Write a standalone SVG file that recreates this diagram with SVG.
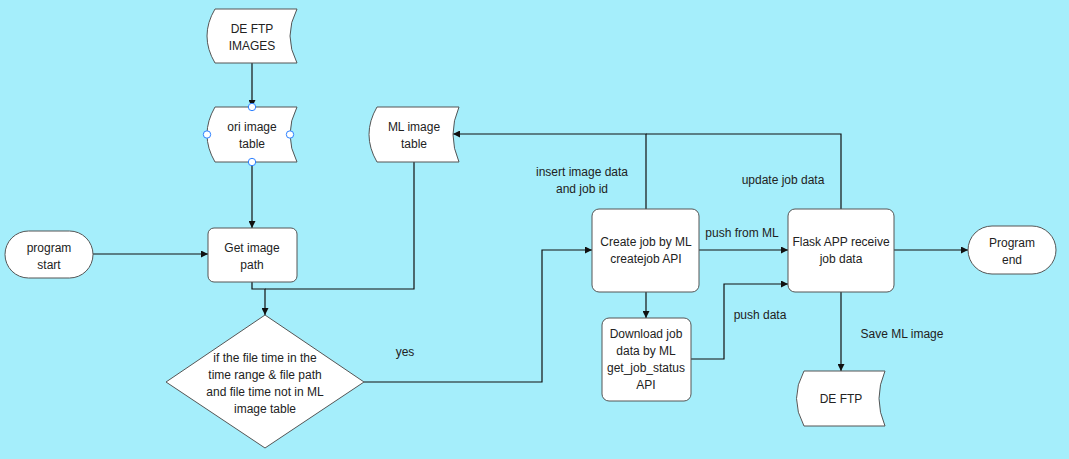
<svg xmlns="http://www.w3.org/2000/svg" width="1069" height="459" viewBox="0 0 1069 459">
<defs>
<style>
.s{fill:#fff;stroke:#555;stroke-width:1}
.t{font-family:"Liberation Sans",Arial,sans-serif;font-size:12px;fill:#222;text-anchor:middle}
.c{fill:none;stroke:#111;stroke-width:1.2}
.h{fill:#fff;stroke:#2a7fff;stroke-width:1}
</style>
<marker id="a" viewBox="0 0 10 10" refX="10" refY="5" markerWidth="7" markerHeight="7" markerUnits="userSpaceOnUse" orient="auto">
<path d="M0,0 L10,5 L0,10 Z" fill="#111"/>
</marker>
</defs>
<rect width="1069" height="459" fill="#a5eefb"/>
<g id="connectors">
<path class="c" d="M252,63 V107" marker-end="url(#a)"/>
<path class="c" d="M252,162 V228" marker-end="url(#a)"/>
<path class="c" d="M93,254 H208" marker-end="url(#a)"/>
<path class="c" d="M252,282 V289 H265 V315" marker-end="url(#a)"/>
<path class="c" d="M414,162 V289 H265"/>
<path class="c" d="M364,382 H542 V250 H592" marker-end="url(#a)"/>
<path class="c" d="M646,209 V134 H453" marker-end="url(#a)"/>
<path class="c" d="M841,209 V134 H646"/>
<path class="c" d="M699,250 H788" marker-end="url(#a)"/>
<path class="c" d="M646,292 V318" marker-end="url(#a)"/>
<path class="c" d="M691,359 H724 V284 H788" marker-end="url(#a)"/>
<path class="c" d="M841,292 V371" marker-end="url(#a)"/>
<path class="c" d="M894,250 H968" marker-end="url(#a)"/>
<text class="t" x="405" y="356">yes</text>
<text class="t" x="582" y="176">insert image data</text>
<text class="t" x="582" y="193">and job id</text>
<text class="t" x="783" y="184">update job data</text>
<text class="t" x="742" y="237">push from ML</text>
<text class="t" x="760" y="319">push data</text>
<text class="t" x="902" y="338">Save ML image</text>
</g>
<g id="de-ftp-images">
<path class="s" d="M215,9 H297 Q283,36 297,63 H215 Q199,36 215,9 Z"/>
<text class="t" x="252" y="33">DE FTP</text>
<text class="t" x="252" y="50">IMAGES</text>
</g>
<g id="ori-image-table">
<path class="s" d="M215,107 H297 Q283,134.5 297,162 H215 Q199,134.5 215,107 Z"/>
<text class="t" x="252" y="131">ori image</text>
<text class="t" x="252" y="148">table</text>
<circle class="h" cx="252" cy="107" r="3.7"/>
<circle class="h" cx="207" cy="134.5" r="3.7"/>
<circle class="h" cx="290" cy="134.5" r="3.7"/>
<circle class="h" cx="252" cy="162" r="3.7"/>
</g>
<g id="ml-image-table">
<path class="s" d="M377,107 H459 Q447,134.5 459,162 H377 Q361,134.5 377,107 Z"/>
<text class="t" x="414" y="131">ML image</text>
<text class="t" x="414" y="148">table</text>
</g>
<g id="program-start">
<rect class="s" x="5" y="231" width="88" height="47" rx="23.5"/>
<text class="t" x="49" y="252">program</text>
<text class="t" x="49" y="269">start</text>
</g>
<g id="get-image-path">
<rect class="s" x="208" y="228" width="89" height="54" rx="6"/>
<text class="t" x="252" y="252">Get image</text>
<text class="t" x="252" y="269">path</text>
</g>
<g id="decision">
<path class="s" d="M265,315 L364,382 L265,448 L166,382 Z"/>
<text class="t" x="265" y="362">if the file time in the</text>
<text class="t" x="265" y="379">time range &amp; file path</text>
<text class="t" x="265" y="396">and file time not in ML</text>
<text class="t" x="265" y="413">image table</text>
</g>
<g id="create-job">
<rect class="s" x="592" y="209" width="107" height="83" rx="7"/>
<text class="t" x="646" y="246">Create job by ML</text>
<text class="t" x="646" y="263">createjob API</text>
</g>
<g id="download-job">
<rect class="s" x="602" y="318" width="89" height="83" rx="7"/>
<text class="t" x="646" y="338">Download job</text>
<text class="t" x="646" y="355">data by ML</text>
<text class="t" x="646" y="372">get_job_status</text>
<text class="t" x="646" y="389">API</text>
</g>
<g id="flask-app">
<rect class="s" x="788" y="209" width="106" height="83" rx="7"/>
<text class="t" x="841" y="246">Flask APP receive</text>
<text class="t" x="841" y="263">job data</text>
</g>
<g id="de-ftp">
<path class="s" d="M804,371 H885 Q873,398.5 885,426 H804 Q789,398.5 804,371 Z"/>
<text class="t" x="841" y="403">DE FTP</text>
</g>
<g id="program-end">
<rect class="s" x="968" y="226" width="88" height="48" rx="24"/>
<text class="t" x="1012" y="247">Program</text>
<text class="t" x="1012" y="264">end</text>
</g>
</svg>
